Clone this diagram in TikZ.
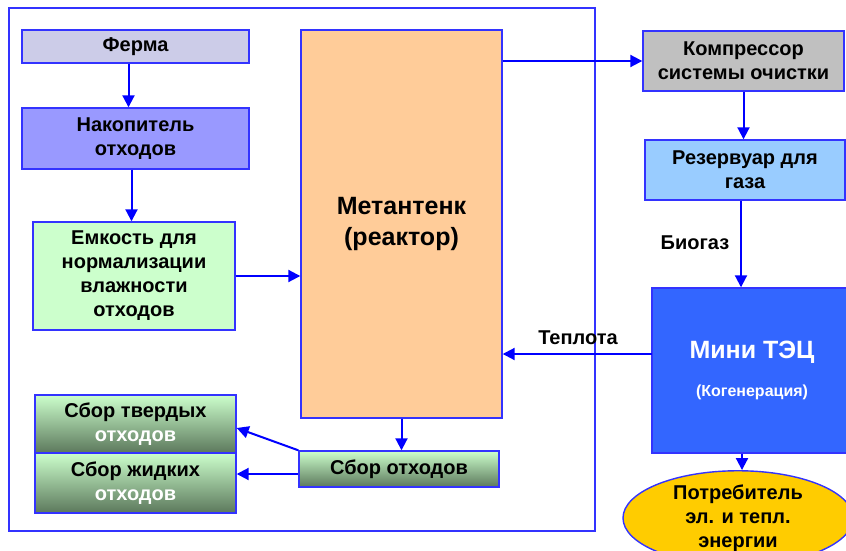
\documentclass[tikz,border=0pt]{standalone}
\usepackage{fontspec}
\setmainfont{Liberation Sans}
\usetikzlibrary{arrows.meta,shapes.geometric}
\definecolor{boxblue}{HTML}{3333FF}
\definecolor{arrblue}{HTML}{0000FF}
\definecolor{fermafill}{HTML}{CCCCE8}
\definecolor{nakfill}{HTML}{9999FF}
\definecolor{emkfill}{HTML}{CCFFCC}
\definecolor{metfill}{HTML}{FFCC99}
\definecolor{kompfill}{HTML}{C0C0C0}
\definecolor{rezfill}{HTML}{99CCFF}
\definecolor{tecfill}{HTML}{3366FF}
\definecolor{ellfill}{HTML}{FFCC00}
\definecolor{gtop}{HTML}{CCFFCC}
\definecolor{gbot}{HTML}{5C785C}
\begin{document}
\begin{tikzpicture}[x=1pt,y=-1pt,
  box/.style={draw=boxblue, line width=1.4pt, inner sep=2pt, align=center,
    font=\bfseries\fontsize{20}{24}\selectfont},
  grad/.style={box, top color=gtop, bottom color=gbot},
  arr/.style={draw=arrblue, line width=2pt, -{Triangle[length=12pt,width=12pt]}},
  lbl/.style={font=\bfseries\fontsize{20}{24}\selectfont, inner sep=0pt}]
\clip (0,0) rectangle (846,551);
\fill[white] (0,0) rectangle (846,551);
\node[draw=boxblue, line width=1.4pt, minimum width=586pt, minimum height=523pt, inner sep=0pt] (frame) at (302,269.5) {};
\node[box, fill=fermafill, minimum width=227pt, minimum height=33pt] (ferma) at (135.5,46.5) {Ферма};
\node[box, fill=nakfill, minimum width=227pt, minimum height=61pt] (nak) at (135.5,138.5) {Накопитель\\отходов};
\node[box, fill=emkfill, minimum width=202pt, minimum height=108pt] (emk) at (134,276) {Емкость для\\нормализации\\влажности\\отходов};
\node[box, fill=metfill, minimum width=201pt, minimum height=388pt, font=\bfseries\fontsize{25}{31}\selectfont] (metan) at (401.5,224) {\raisebox{-6pt}{\begin{tabular}{@{}c@{}}Метантенк\\(реактор)\end{tabular}}};
\node[grad, minimum width=201pt, minimum height=58pt] (tv) at (135.5,424) {Сбор твердых\\\textcolor{white}{отходов}};
\node[grad, minimum width=201pt, minimum height=60pt] (jid) at (135.5,483) {Сбор жидких\\\textcolor{white}{отходов}};
\node[grad, minimum width=200pt, minimum height=36pt] (sbor) at (399,469) {Сбор отходов};
\node[box, fill=kompfill, minimum width=201pt, minimum height=60pt] (komp) at (743.5,61) {Компрессор\\системы очистки};
\node[box, fill=rezfill, minimum width=200pt, minimum height=60pt] (rez) at (745,170) {Резервуар для\\газа};
\node[box, fill=tecfill, minimum width=200pt, minimum height=165pt, text=white, font=\bfseries\fontsize{25}{38}\selectfont] (tec) at (752,370.5) {Мини ТЭЦ\\{\fontsize{16}{18}\selectfont(Когенерация)}};
\node[box, ellipse, fill=ellfill, minimum width=230pt, minimum height=82pt, inner sep=0pt] (ell) at (738,518) {Потребитель\\эл. и тепл.\\энергии};
\node[lbl] (biogaz) at (695,243) {Биогаз};
\node[lbl] (teplo) at (578,338) {Теплота};
\coordinate (heat) at (652,354);
\draw[arr] ([xshift=-7pt]ferma.south) -- ([xshift=-7pt]ferma.south |- nak.north);
\draw[arr] ([xshift=-4pt]nak.south) -- ([xshift=-4pt]nak.south |- emk.north);
\draw[arr] (emk.east) -- (emk.east -| metan.west);
\draw[arr] (komp.west -| metan.east) -- (komp.west);
\draw[arr] (komp.south) -- (komp.south |- rez.north);
\draw[arr] ([xshift=-4pt]rez.south) -- ([xshift=-4pt]rez.south |- tec.north);
\draw[arr] (heat) -- (heat -| metan.east);
\draw[arr] ([xshift=-10pt]tec.south) -- ([xshift=-10pt]tec.south |- ell.north);
\draw[arr] (metan.south) -- (metan.south |- sbor.north);
\draw[arr] (sbor.north west) -- ([yshift=-4pt]tv.east);
\draw[arr] ([yshift=-5pt]sbor.west) -- ([yshift=-5pt]sbor.west -| jid.east);
\end{tikzpicture}
\end{document}
